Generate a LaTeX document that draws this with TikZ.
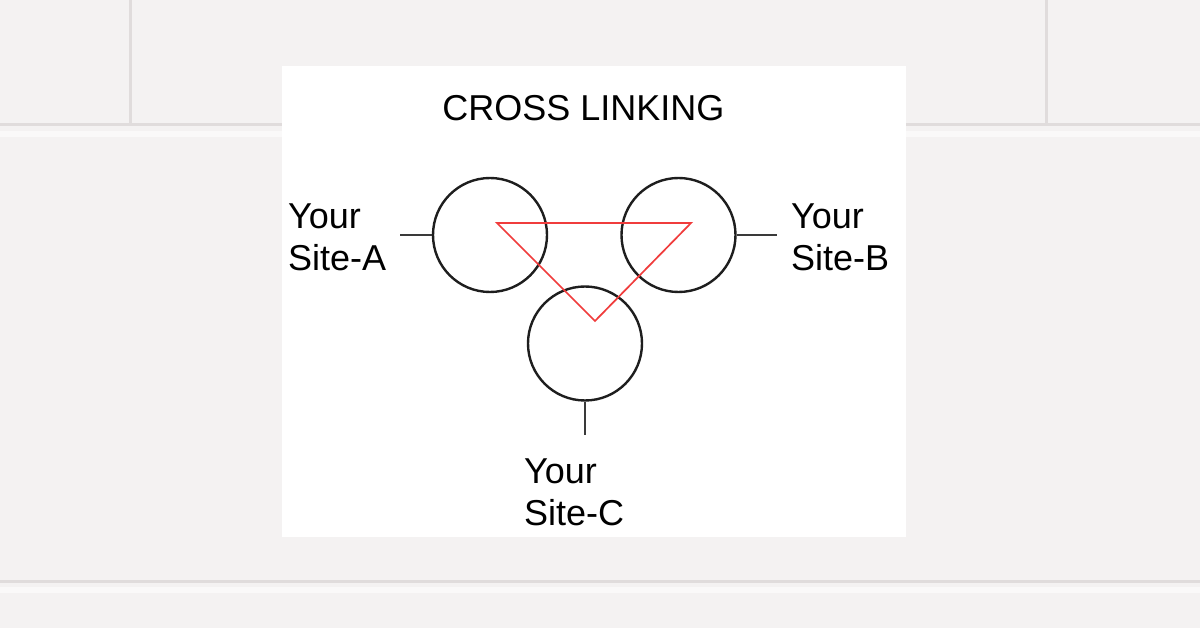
\documentclass[tikz,border=0pt]{standalone}
\usepackage{fontspec}
\setmainfont{Liberation Sans}
\definecolor{wall}{HTML}{F4F2F2}
\definecolor{mortar}{HTML}{E0DCDC}
\definecolor{hilite}{HTML}{FAF9F9}
\definecolor{ink}{HTML}{1E1E1E}
\definecolor{tick}{HTML}{3A3A3A}
\definecolor{link}{HTML}{F03C3C}
\tikzset{
  site/.style={draw=ink, line width=2.4pt, circle, minimum size=114pt, inner sep=0pt},
  tickline/.style={draw=tick, line width=2.2pt},
  crosslink/.style={draw=link, line width=1.7pt, line join=miter},
  lbl/.style={font=\fontsize{36}{42}\selectfont, text=black, inner sep=0pt, align=left},
  mortarline/.style={draw=mortar, line width=3pt},
  hiliteline/.style={draw=hilite, line width=6pt}
}
\begin{document}
\begin{tikzpicture}[x=1pt, y=-1pt]
  % wall background
  \fill[wall] (0,0) rectangle (1200,628);
  \useasboundingbox (0,0) rectangle (1200,628);
  % brick joints
  \draw[hiliteline] (0,134) -- (1200,134);
  \draw[mortarline] (0,125) -- (1200,125);
  \draw[hiliteline] (0,590) -- (1200,590);
  \draw[mortarline] (0,581) -- (1200,581);
  \draw[mortarline] (130,0) -- (130,124);
  \draw[mortarline] (1046,0) -- (1046,124);
  % white panel
  \fill[white] (282,66) rectangle (906,537);
  % title
  \node[lbl, anchor=base] (title) at (583.5,121) {CROSS LINKING};
  % circles
  \node[site] (A) at (490,235) {};
  \node[site] (B) at (678.5,235) {};
  \node[site] (C) at (585,343.5) {};
  % triangle
  \coordinate (tA) at (497,223);
  \coordinate (tB) at (691,223);
  \coordinate (tC) at (595,321);
  \draw[crosslink] (tA) -- (tB) -- (tC) -- cycle;
  % ticks
  \coordinate (ta) at (400,235);
  \coordinate (tb) at (777,235);
  \coordinate (tc) at (585,435);
  \draw[tickline] (A.west) -- (ta);
  \draw[tickline] (B.east) -- (tb);
  \draw[tickline] (C.south) -- (tc);
  % labels
  \node[lbl, anchor=base west] (la) at (288,271) {Your\\Site-A};
  \node[lbl, anchor=base west] (lb) at (791,271) {Your\\Site-B};
  \node[lbl, anchor=base west] (lc) at (524,525) {Your\\Site-C};
\end{tikzpicture}
\end{document}
